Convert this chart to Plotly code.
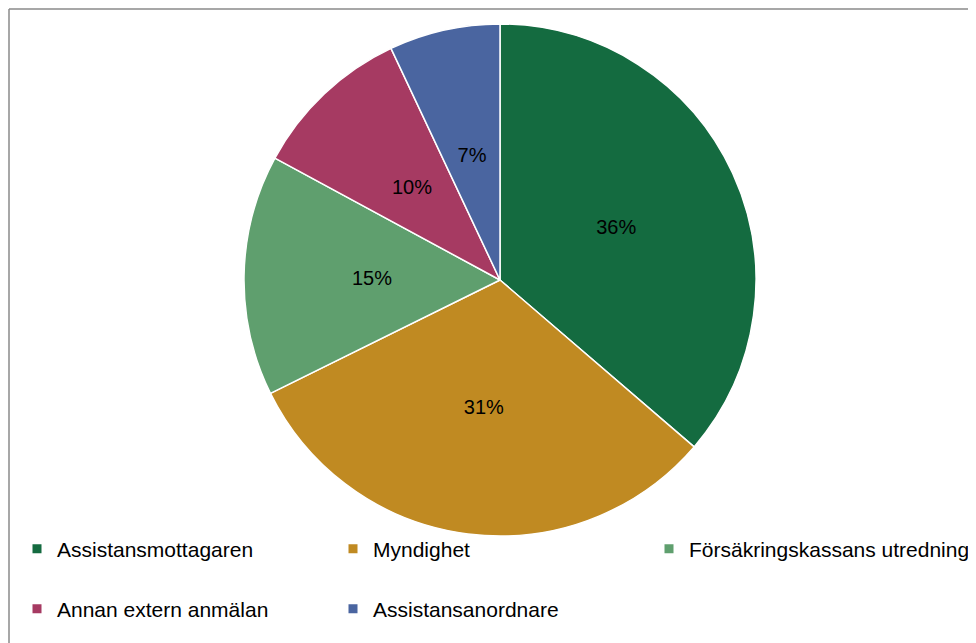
import plotly.graph_objects as go

# Data
labels = ["Assistansmottagaren", "Myndighet", "Försäkringskassans utredning",
          "Annan extern anmälan", "Assistansanordnare"]
values = [36.3, 31.4, 15.2, 10.1, 7.0]
colors = ["#146b40", "#c08a22", "#5f9f6e", "#a63a62", "#4a65a0"]
legend_ids = ["legend", "legend", "legend3", "legend2", "legend2"]

W, H = 976, 643
# page body has an 8px margin; figure coords = screen - 8
cx, cy, r = 492, 272, 256
hole = 0.65
r_text = 0.5 * r / ((1 + hole) / 2)  # radius of transparent label ring

def dom(rad):
    return dict(x=[(cx - rad) / W, (cx + rad) / W],
                y=[1 - (cy + rad) / H, 1 - (cy - rad) / H])

fig = go.Figure()
fig.add_trace(go.Pie(
    labels=labels, values=values,
    marker=dict(colors=colors, line=dict(color="white", width=1.5)),
    sort=False, direction="clockwise", rotation=0,
    textinfo="none", showlegend=False, hoverinfo="label+percent",
    domain=dom(r),
))
# transparent ring used only to place the percentage labels at half radius
fig.add_trace(go.Pie(
    labels=labels, values=values, hole=hole,
    marker=dict(colors=["rgba(0,0,0,0)"] * len(labels), line=dict(width=0)),
    sort=False, direction="clockwise", rotation=0,
    textinfo="percent", texttemplate="%{percent:.0%}",
    textposition="inside", insidetextorientation="horizontal",
    textfont=dict(family="Liberation Sans, Arial", size=20, color="black"),
    showlegend=False, hoverinfo="skip",
    domain=dom(r_text),
))

for lab, col, lg in zip(labels, colors, legend_ids):
    fig.add_trace(go.Scatter(
        x=[None], y=[None], mode="markers", name=lab,
        marker=dict(symbol="square", size=9, color=col),
        legend=lg, showlegend=True,
    ))

legend_common = dict(orientation="h", xanchor="left", yanchor="middle",
                     font=dict(family="Liberation Sans, Arial", size=21, color="black"),
                     bgcolor="rgba(0,0,0,0)", itemclick=False)

fig.update_layout(
    width=W, height=H,
    margin=dict(l=0, r=0, t=0, b=0),
    paper_bgcolor="white", plot_bgcolor="white",
    xaxis=dict(visible=False), yaxis=dict(visible=False),
    legend=dict(x=9 / W, y=1 - 541 / H, entrywidth=271, **legend_common),
    legend3=dict(x=641 / W, y=1 - 541 / H, **legend_common),
    legend2=dict(x=9 / W, y=1 - 601 / H, entrywidth=271, **legend_common),
    shapes=[
        dict(type="line", xref="paper", yref="paper", x0=1 / W, x1=1.05,
             y0=1 - 1 / H, y1=1 - 1 / H, line=dict(color="#8a8a8a", width=1.5)),
        dict(type="line", xref="paper", yref="paper", x0=1 / W, x1=1 / W,
             y0=1 - 1 / H, y1=-0.05, line=dict(color="#8a8a8a", width=1.5)),
    ],
)

fig.write_html("out.html")
